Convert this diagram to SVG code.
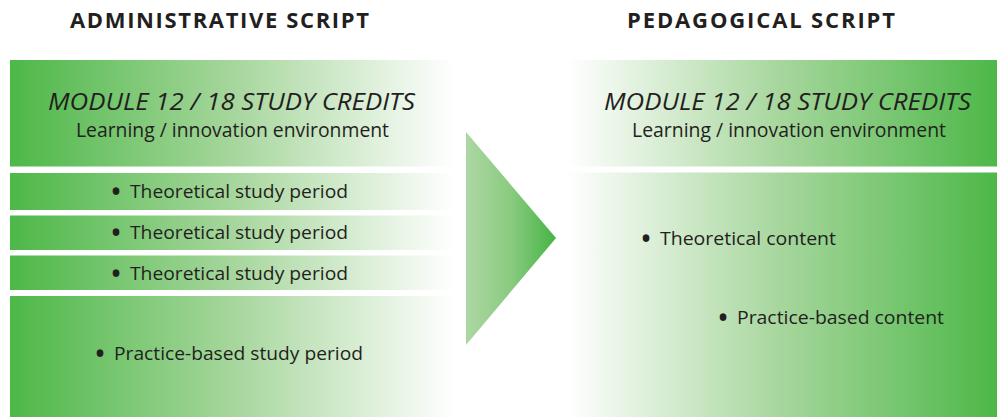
<svg xmlns="http://www.w3.org/2000/svg" width="997" height="417" viewBox="0 0 997 417">
<defs>
<linearGradient id="gl" x1="0" y1="0" x2="1" y2="0">
<stop offset="0" stop-color="#4db848"/>
<stop offset="0.5" stop-color="#a6d69c"/>
<stop offset="1" stop-color="#ffffff"/>
</linearGradient>
<linearGradient id="gr" x1="0" y1="0" x2="1" y2="0">
<stop offset="0" stop-color="#ffffff"/>
<stop offset="0.5" stop-color="#a6d69c"/>
<stop offset="1" stop-color="#4db848"/>
</linearGradient>
<linearGradient id="ga" x1="0" y1="0" x2="1" y2="0">
<stop offset="0" stop-color="#acd7a3"/>
<stop offset="0.5" stop-color="#8acb80"/>
<stop offset="1" stop-color="#45b444"/>
</linearGradient>
</defs>
<style>
text{font-family:"Open Sans","Noto Sans","Liberation Sans",sans-serif;fill:#231f20}
.h{font-weight:bold;font-size:22px}
.t{font-style:italic;font-size:23px}
.s{font-size:20px}
.b{font-size:19px}
.d{font-size:32px}
</style>
<text class="h" x="70" y="28" textLength="299" lengthAdjust="spacing">ADMINISTRATIVE SCRIPT</text>
<text class="h" x="627" y="28" textLength="268" lengthAdjust="spacing">PEDAGOGICAL SCRIPT</text>
<g id="left-module">
<rect x="10" y="60" width="445" height="106.5" fill="url(#gl)"/>
<text class="t" x="48" y="110" textLength="367" lengthAdjust="spacingAndGlyphs">MODULE 12 / 18 STUDY CREDITS</text>
<text class="s" x="76" y="137" textLength="313" lengthAdjust="spacingAndGlyphs">Learning / innovation environment</text>
</g>
<g id="left-theory-1">
<rect x="10" y="173" width="445" height="37" fill="url(#gl)"/>
<text class="b" x="110" y="198"><tspan class="d" dy="4.5">•</tspan><tspan dy="-4.5" x="130" textLength="218" lengthAdjust="spacingAndGlyphs">Theoretical study period</tspan></text>
</g>
<g id="left-theory-2">
<rect x="10" y="215.5" width="445" height="34.5" fill="url(#gl)"/>
<text class="b" x="110" y="239"><tspan class="d" dy="4.5">•</tspan><tspan dy="-4.5" x="130" textLength="218" lengthAdjust="spacingAndGlyphs">Theoretical study period</tspan></text>
</g>
<g id="left-theory-3">
<rect x="10" y="255.5" width="445" height="34.5" fill="url(#gl)"/>
<text class="b" x="110" y="280"><tspan class="d" dy="4.5">•</tspan><tspan dy="-4.5" x="130" textLength="218" lengthAdjust="spacingAndGlyphs">Theoretical study period</tspan></text>
</g>
<g id="left-practice">
<rect x="10" y="296" width="445" height="121" fill="url(#gl)"/>
<text class="b" x="94" y="360"><tspan class="d" dy="4.5">•</tspan><tspan dy="-4.5" x="114" textLength="249" lengthAdjust="spacingAndGlyphs">Practice-based study period</tspan></text>
</g>
<g id="connectors">
<polygon points="466,132 556,238 466,345" fill="url(#ga)"/>
</g>
<g id="right-module">
<rect x="567" y="60" width="430" height="106.5" fill="url(#gr)"/>
<text class="t" x="604" y="110" textLength="367" lengthAdjust="spacingAndGlyphs">MODULE 12 / 18 STUDY CREDITS</text>
<text class="s" x="632" y="137" textLength="314" lengthAdjust="spacingAndGlyphs">Learning / innovation environment</text>
</g>
<g id="right-content">
<rect x="567" y="172.5" width="430" height="244.5" fill="url(#gr)"/>
<text class="b" x="640" y="245"><tspan class="d" dy="4.5">•</tspan><tspan dy="-4.5" x="660" textLength="176" lengthAdjust="spacingAndGlyphs">Theoretical content</tspan></text>
<text class="b" x="717" y="324"><tspan class="d" dy="4.5">•</tspan><tspan dy="-4.5" x="737" textLength="207" lengthAdjust="spacingAndGlyphs">Practice-based content</tspan></text>
</g>
</svg>
